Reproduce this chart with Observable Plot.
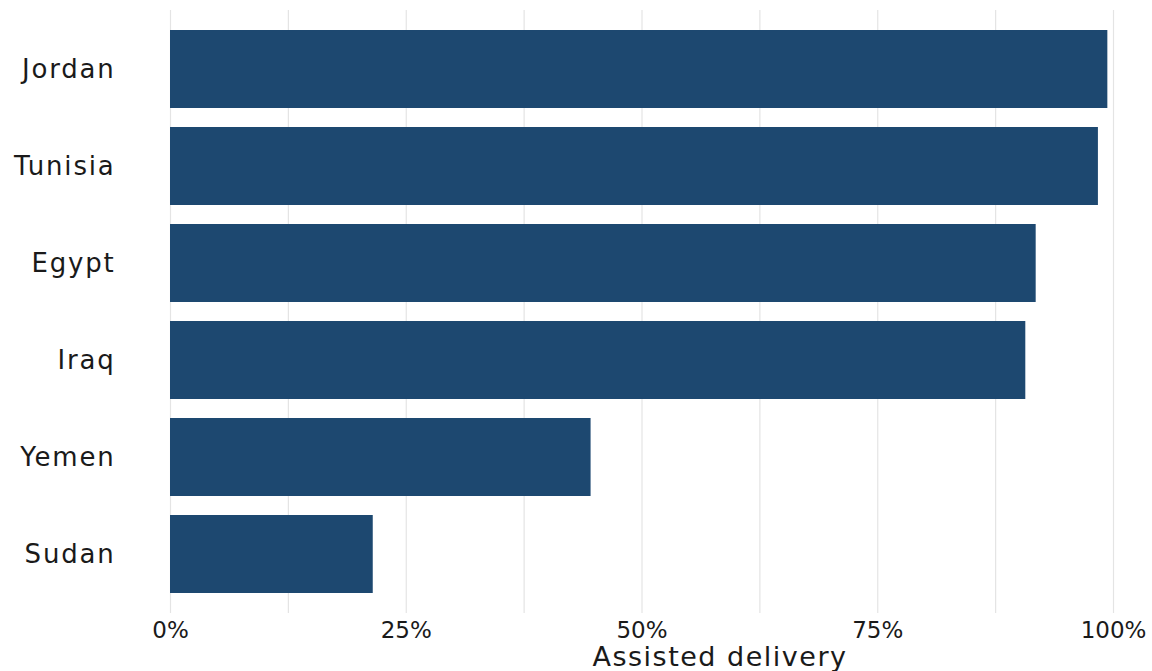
<!DOCTYPE html>
<html><head><meta charset="utf-8">
<script src="https://cdn.jsdelivr.net/npm/d3@7"></script>
<script src="https://cdn.jsdelivr.net/npm/@observablehq/plot@0.6"></script>
<style>html,body{margin:0;padding:0;background:#fff;overflow:hidden}</style>
</head><body><div id="chart"></div>
<script>
const countries = ["Jordan", "Tunisia", "Egypt", "Iraq", "Yemen", "Sudan"];
const values = [99.4, 98.4, 91.8, 90.7, 44.6, 21.5];
const xTicks = [0, 25, 50, 75, 100];
const gridLines = [0, 12.5, 25, 37.5, 50, 62.5, 75, 87.5, 100];
const xLabel = "Assisted delivery";

const data = countries.map((c, i) => ({country: c, value: values[i]}));
const fmt = d => d + "%";

const chart = Plot.plot({
  width: 1152,
  height: 671,
  marginLeft: 170,
  marginRight: 39,
  marginTop: 10,
  marginBottom: 58,
  style: {fontFamily: "'DejaVu Sans', sans-serif", fontSize: "25px", color: "#1a1a1a", background: "#fff"},
  x: {domain: [0, 100]},
  y: {domain: countries, paddingInner: 0.2, paddingOuter: 0.2},
  marks: [
    Plot.ruleX(gridLines, {stroke: "#e4e4e4", strokeWidth: 1.2}),
    Plot.barX(data, {x: "value", y: "country", fill: "#1d4870"}),
    Plot.axisY({tickSize: 0, tickPadding: 55, label: null, fontSize: 26}),
    Plot.axisX({ticks: xTicks, tickFormat: fmt, tickSize: 0, tickPadding: 8, label: null, fontSize: 23}),
    Plot.text([xLabel], {frameAnchor: "bottom", lineAnchor: "bottom", dy: 52, dx: 78, fontSize: 27, fill: "#1a1a1a"})
  ]
});
d3.select(chart).selectAll("text").each(function() {
  const t = this.textContent;
  if (countries.includes(t)) this.setAttribute("letter-spacing", "1.8");
  else if (t === xLabel) this.setAttribute("letter-spacing", "1.5");
});
document.getElementById("chart").appendChild(chart);
</script>
</body></html>
